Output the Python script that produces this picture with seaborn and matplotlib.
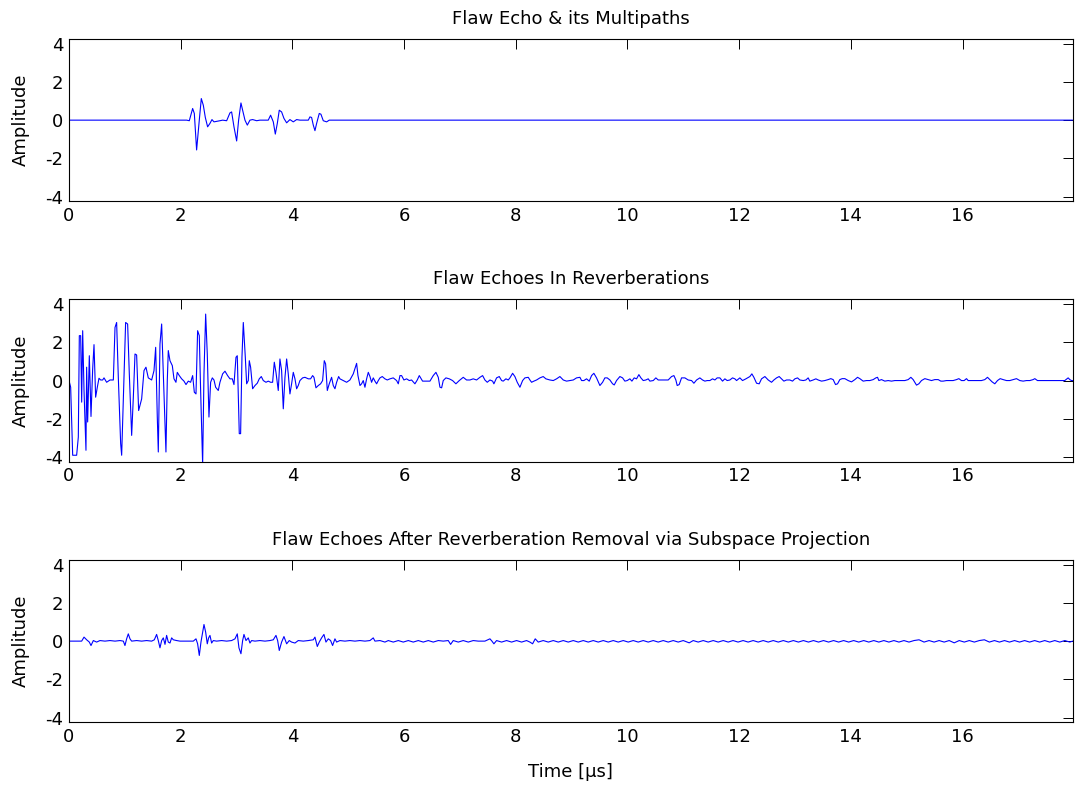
import pandas as pd
import matplotlib
matplotlib.use("Agg")
import matplotlib.pyplot as plt
import seaborn as sns

# Panel titles and axis ticks
titles = ["Flaw Echo & its Multipaths",
          "Flaw Echoes In Reverberations",
          "Flaw Echoes After Reverberation Removal via Subspace Projection"]
x_ticks = [0, 2, 4, 6, 8, 10, 12, 14, 16]
y_ticks = [-4, -2, 0, 2, 4]
t_max = 17.97

# (time [us], amplitude)
echo = [(0.0, 0), (2.107, 0), (2.154, -0.03), (2.214, 0.61), (2.244, 0.35), (2.285, -1.56),
        (2.333, 0), (2.369, 1.13), (2.405, 0.78), (2.441, 0.14), (2.482, -0.35), (2.524, -0.17),
        (2.560, 0.03), (2.596, -0.09), (2.703, -0.03), (2.751, 0), (2.823, -0.03), (2.882, 0.38),
        (2.912, 0.43), (2.954, -0.35), (3.002, -1.09), (3.037, 0), (3.079, 0.90), (3.109, 0.52),
        (3.151, 0), (3.193, -0.26), (3.240, 0), (3.288, 0.03), (3.360, -0.03), (3.419, 0),
        (3.568, 0), (3.610, 0.26), (3.658, -0.09), (3.694, -0.73), (3.730, -0.17), (3.765, 0.52),
        (3.807, 0.43), (3.849, 0.09), (3.897, -0.14), (3.956, 0.03), (4.016, -0.09), (4.076, 0.03),
        (4.135, 0), (4.285, 0), (4.314, 0.17), (4.344, 0.14), (4.374, -0.26), (4.404, -0.55),
        (4.434, -0.17), (4.481, 0.35), (4.511, 0.31), (4.553, -0.03), (4.613, -0.09), (4.660, 0),
        (17.97, 0)]

reverb = [(0.0, 0), (0.030, -0.35), (0.066, -3.91), (0.137, -3.91), (0.167, -2.96), (0.185, 2.35),
          (0.209, 2.35), (0.227, -1.13), (0.245, 2.61), (0.269, -0.52), (0.304, -3.65), (0.316, 0.70),
          (0.334, -2.17), (0.364, 1.30), (0.394, -1.88), (0.424, 0.61), (0.448, 1.88), (0.477, -0.87),
          (0.507, -0.35), (0.537, 0.12), (0.567, 0.03), (0.603, 0.03), (0.627, 0.14), (0.674, -0.09),
          (0.734, 0.03), (0.794, 0.03), (0.824, 2.78), (0.853, 3.04), (0.883, 0.17), (0.925, -3.30),
          (0.943, -3.91), (0.973, -1.04), (1.014, 3.04), (1.050, 2.96), (1.080, 0.35), (1.122, -2.87),
          (1.152, -0.87), (1.182, 1.39), (1.211, 1.34), (1.247, -1.57), (1.301, -0.96), (1.343, 0.52),
          (1.378, 0.70), (1.420, 0.14), (1.480, 0.03), (1.522, 0.52), (1.552, 1.74), (1.581, -1.91),
          (1.599, -3.74), (1.629, 1.91), (1.659, 2.96), (1.689, 0.35), (1.736, -3.74), (1.760, 0),
          (1.778, 1.57), (1.808, 1.04), (1.850, 0.78), (1.880, 0.09), (1.915, -0.09), (1.939, 0.43),
          (1.975, 0.26), (2.017, 0.09), (2.059, -0.03), (2.095, -0.21), (2.136, -0.03), (2.178, -0.09),
          (2.214, 0.26), (2.244, -0.61), (2.274, -0.70), (2.303, 2.61), (2.333, 2.35), (2.357, -0.52),
          (2.393, -4.40), (2.417, 0.35), (2.447, 3.48), (2.476, 1.39), (2.506, -1.91), (2.536, -0.09),
          (2.566, 0.14), (2.596, 0.03), (2.626, -0.35), (2.673, -0.52), (2.703, -0.09), (2.751, 0.35),
          (2.793, 0.49), (2.840, 0.26), (2.882, 0.09), (2.924, 0.09), (2.954, -0.21), (2.990, 1.22),
          (3.013, 1.30), (3.049, -2.78), (3.073, -2.78), (3.097, 1.22), (3.121, 3.04), (3.157, 1.22),
          (3.181, -0.17), (3.210, 0), (3.228, 1.04), (3.252, 0.70), (3.288, -0.43), (3.330, -0.26),
          (3.371, -0.14), (3.407, 0.09), (3.443, 0.21), (3.479, 0), (3.527, -0.09), (3.568, -0.03),
          (3.610, -0.09), (3.646, -0.09), (3.676, 0.96), (3.706, 0.43), (3.747, -0.52), (3.777, 1.13),
          (3.807, 0.52), (3.837, -1.48), (3.867, 0.17), (3.897, 1.13), (3.926, 0.35), (3.956, -0.70),
          (3.986, -0.17), (4.016, 0.43), (4.046, 0.09), (4.076, -0.43), (4.105, -0.26), (4.135, 0),
          (4.183, 0.14), (4.225, 0.17), (4.285, 0.09), (4.326, 0.09), (4.362, 0.26), (4.386, 0.17),
          (4.422, -0.38), (4.464, -0.26), (4.505, -0.17), (4.541, 0), (4.571, 1.04), (4.595, 0.87),
          (4.625, -0.52), (4.660, -0.17), (4.702, 0.17), (4.732, -0.26), (4.762, -0.43), (4.792, -0.09),
          (4.828, 0.21), (4.851, 0.09), (4.911, 0), (4.971, -0.09), (5.030, 0.03), (5.090, 0.35),
          (5.150, 0.90), (5.174, 0.26), (5.210, -0.26), (5.239, -0.17), (5.269, 0), (5.299, -0.35),
          (5.329, 0.09), (5.359, 0.43), (5.389, 0.21), (5.418, -0.09), (5.448, 0.14), (5.478, -0.03),
          (5.508, -0.17), (5.538, 0), (5.568, 0.14), (5.609, 0.21), (5.657, 0.09), (5.699, 0.03),
          (5.747, 0.09), (5.806, 0.14), (5.866, 0), (5.896, -0.17), (5.926, 0.26), (5.955, 0.26),
          (5.997, 0.03), (6.045, 0.09), (6.093, 0), (6.134, 0.03), (6.194, -0.17), (6.236, 0.03),
          (6.272, 0.26), (6.296, 0.14), (6.331, -0.03), (6.403, -0.03), (6.463, -0.03), (6.522, 0.26),
          (6.570, 0.43), (6.612, 0.17), (6.642, -0.35), (6.672, -0.38), (6.701, 0), (6.749, 0.14),
          (6.809, 0.09), (6.868, 0), (6.928, -0.17), (6.988, 0), (7.059, 0.17), (7.119, 0.03),
          (7.179, 0.03), (7.238, 0.09), (7.298, 0.03), (7.358, 0.17), (7.406, 0.26), (7.447, 0.03),
          (7.489, -0.09), (7.537, 0.03), (7.585, -0.03), (7.608, -0.17), (7.656, 0.14), (7.704, 0.21),
          (7.746, 0), (7.775, -0.03), (7.823, 0.09), (7.865, 0.03), (7.895, 0.14), (7.943, 0.38),
          (7.984, 0.21), (8.026, -0.09), (8.074, -0.35), (8.122, 0), (8.163, 0.14), (8.223, 0.17),
          (8.253, 0.03), (8.283, -0.09), (8.324, -0.03), (8.372, 0.03), (8.432, 0.14), (8.491, 0.21),
          (8.539, 0.09), (8.611, 0.03), (8.671, 0), (8.730, 0.09), (8.790, 0.21), (8.850, 0.03),
          (8.909, -0.03), (8.969, 0), (9.029, 0.03), (9.088, 0.14), (9.148, 0.17), (9.178, 0),
          (9.219, 0), (9.267, 0.09), (9.315, -0.03), (9.357, 0.26), (9.398, 0.38), (9.446, 0.14),
          (9.506, -0.26), (9.554, -0.09), (9.595, 0.14), (9.637, 0.14), (9.685, 0.03), (9.733, -0.17),
          (9.763, -0.23), (9.804, 0), (9.864, 0.21), (9.912, 0.14), (9.953, -0.03), (9.995, 0),
          (10.043, 0.09), (10.079, -0.03), (10.120, 0.14), (10.162, 0.09), (10.204, 0.31), (10.240, 0.14),
          (10.282, 0), (10.329, 0.03), (10.371, 0.09), (10.401, -0.03), (10.461, 0), (10.508, 0.14),
          (10.550, 0.03), (10.610, 0.03), (10.670, 0.03), (10.729, 0.03), (10.789, 0.21), (10.831, 0.26),
          (10.866, 0.03), (10.890, -0.26), (10.926, -0.21), (10.968, 0.14), (11.028, 0.14), (11.087, 0.03),
          (11.147, 0), (11.189, -0.14), (11.237, 0.03), (11.296, 0.14), (11.344, 0.03), (11.386, -0.03),
          (11.427, 0), (11.475, 0), (11.523, 0.09), (11.565, 0.03), (11.606, 0.14), (11.654, 0.14),
          (11.702, -0.03), (11.744, 0.09), (11.785, 0), (11.833, 0.03), (11.881, 0.14), (11.923, 0.09),
          (11.953, 0), (12.012, 0.14), (12.060, 0), (12.120, 0.09), (12.191, 0.21), (12.227, 0.35),
          (12.263, 0.17), (12.311, -0.14), (12.358, -0.17), (12.400, 0.09), (12.460, 0.21), (12.520, 0.03),
          (12.579, -0.09), (12.621, 0.03), (12.669, 0.14), (12.716, 0.21), (12.758, 0.09), (12.800, -0.03),
          (12.848, 0.03), (12.907, 0.03), (12.955, -0.03), (12.997, 0.09), (13.045, 0.14), (13.086, 0.03),
          (13.146, 0), (13.194, 0.03), (13.235, 0.14), (13.265, -0.03), (13.325, 0.03), (13.373, 0.09),
          (13.415, 0.03), (13.474, -0.03), (13.534, 0), (13.593, 0.05), (13.641, 0.10), (13.683, 0.05),
          (13.725, -0.21), (13.761, -0.17), (13.802, 0.05), (13.844, 0.10), (13.892, 0.10), (13.952, 0),
          (14.011, -0.07), (14.071, 0.05), (14.119, 0.17), (14.160, 0.10), (14.220, -0.03), (14.280, 0),
          (14.339, 0), (14.399, 0.05), (14.447, 0.14), (14.477, 0.17), (14.501, 0), (14.548, 0.05),
          (14.608, -0.03), (14.668, 0), (14.727, -0.03), (14.787, 0), (14.877, 0), (14.966, 0),
          (15.026, 0.05), (15.074, 0.17), (15.115, 0.05), (15.175, -0.24), (15.217, -0.17), (15.264, 0),
          (15.324, 0.10), (15.384, 0.05), (15.443, 0), (15.503, 0.05), (15.563, 0.05), (15.610, -0.03),
          (15.652, -0.03), (15.712, 0), (15.772, 0), (15.831, 0), (15.891, 0.05), (15.933, 0.10),
          (15.980, 0), (16.028, 0), (16.070, 0.10), (16.100, 0), (16.159, 0), (16.219, 0),
          (16.279, 0), (16.338, 0), (16.398, 0.05), (16.446, 0.17), (16.488, 0.05), (16.529, -0.07),
          (16.577, -0.17), (16.625, 0), (16.673, 0.10), (16.726, 0.05), (16.786, 0), (16.846, 0),
          (16.905, 0.05), (16.965, 0.10), (17.025, 0), (17.084, -0.03), (17.144, 0), (17.204, 0),
          (17.263, 0.05), (17.293, 0.10), (17.341, 0), (17.413, 0), (17.472, 0), (17.532, 0),
          (17.592, 0), (17.651, 0), (17.711, 0), (17.771, 0), (17.830, 0), (17.890, 0.14),
          (17.920, 0.05), (17.950, 0), (17.97, 0)]

cleaned = [(0.0, 0), (0.227, 0), (0.269, 0.21), (0.316, 0.07), (0.364, -0.05), (0.394, -0.23),
           (0.436, 0.03), (0.495, -0.05), (0.555, 0.03), (0.644, 0), (0.734, 0.03), (0.824, 0),
           (0.913, 0.03), (0.973, 0), (1.002, -0.23), (1.032, 0.12), (1.062, 0.38), (1.092, 0.12),
           (1.122, 0), (1.211, 0.03), (1.301, 0), (1.390, 0.03), (1.480, 0), (1.528, 0.07),
           (1.569, 0.35), (1.599, 0.03), (1.629, -0.35), (1.659, 0.03), (1.689, 0.17), (1.719, -0.17),
           (1.748, 0.30), (1.778, -0.05), (1.808, -0.10), (1.838, 0.17), (1.868, 0.07), (1.927, 0.03),
           (1.987, 0), (2.077, 0), (2.166, 0), (2.226, 0), (2.274, 0.12), (2.303, -0.14),
           (2.333, -0.75), (2.363, -0.05), (2.393, 0.47), (2.417, 0.87), (2.447, 0.47), (2.476, -0.14),
           (2.500, 0.17), (2.524, 0.30), (2.554, -0.10), (2.584, 0.03), (2.643, 0), (2.733, 0.03),
           (2.823, 0), (2.912, 0.03), (2.972, 0.12), (3.013, 0.38), (3.043, -0.35), (3.079, -0.66),
           (3.109, 0.03), (3.133, 0.35), (3.169, 0.03), (3.210, 0.17), (3.240, -0.10), (3.270, 0.03),
           (3.330, 0), (3.419, 0.03), (3.509, 0), (3.598, 0.03), (3.658, 0.07), (3.706, 0.30),
           (3.736, 0.03), (3.765, -0.49), (3.807, -0.05), (3.849, 0.24), (3.897, -0.14), (3.944, 0.03),
           (3.986, -0.05), (4.046, -0.10), (4.105, 0.03), (4.195, 0), (4.285, 0.03), (4.374, 0.07),
           (4.404, 0.21), (4.446, -0.28), (4.481, -0.05), (4.523, 0.17), (4.565, 0.35), (4.601, -0.05),
           (4.643, 0.12), (4.684, 0.03), (4.720, -0.23), (4.762, 0.12), (4.792, -0.05), (4.851, 0.03),
           (4.941, 0), (5.030, 0.03), (5.120, 0), (5.209, 0.03), (5.299, 0), (5.389, 0.03),
           (5.448, 0.17), (5.478, 0), (5.568, 0.03), (5.657, -0.05), (5.717, 0.03), (5.806, -0.05),
           (5.896, 0.03), (5.985, -0.05), (6.075, 0.03), (6.164, -0.05), (6.254, 0.03), (6.343, -0.05),
           (6.433, 0.03), (6.522, -0.05), (6.612, 0.03), (6.701, 0), (6.791, 0.03), (6.833, -0.17),
           (6.880, 0.03), (6.970, -0.05), (7.059, 0.03), (7.149, -0.05), (7.238, 0.03), (7.328, 0),
           (7.447, 0), (7.537, 0.12), (7.573, 0), (7.608, -0.14), (7.656, 0.03), (7.746, -0.05),
           (7.835, 0.03), (7.925, -0.05), (8.014, 0.03), (8.104, -0.05), (8.193, 0.03), (8.253, -0.05),
           (8.301, -0.14), (8.348, 0.12), (8.402, -0.05), (8.491, 0.03), (8.581, -0.05), (8.671, 0.03),
           (8.760, -0.05), (8.850, 0.03), (8.939, -0.05), (9.029, 0.03), (9.118, -0.05), (9.208, 0.03),
           (9.297, -0.05), (9.387, 0.03), (9.476, -0.05), (9.566, 0.03), (9.655, -0.05), (9.745, 0.03),
           (9.834, -0.05), (9.924, 0.03), (10.013, -0.05), (10.103, 0.03), (10.192, -0.05), (10.282, 0.03),
           (10.371, -0.05), (10.461, 0.03), (10.550, -0.05), (10.640, 0.03), (10.729, -0.05), (10.819, 0.03),
           (10.908, -0.05), (10.998, 0.03), (11.105, -0.09), (11.177, 0.03), (11.266, -0.05), (11.356, 0.03),
           (11.445, -0.05), (11.535, 0.03), (11.624, -0.05), (11.714, 0.03), (11.803, -0.05), (11.89, 0.03),
           (11.98, -0.05), (12.07, 0.03), (12.16, -0.05), (12.25, 0.03), (12.34, -0.05), (12.43, 0.03),
           (12.52, -0.05), (12.61, 0.03), (12.70, -0.05), (12.79, 0.03), (12.88, -0.05), (12.97, 0.03),
           (13.06, -0.05), (13.15, 0.03), (13.24, -0.05), (13.33, 0.03), (13.42, -0.05), (13.51, 0.03),
           (13.60, -0.05), (13.69, 0.03), (13.78, -0.05), (13.87, 0.03), (13.96, -0.05), (14.05, 0.03),
           (14.14, -0.05), (14.23, 0.03), (14.32, -0.05), (14.41, 0.03), (14.50, -0.05), (14.59, 0.03),
           (14.68, -0.05), (14.77, 0.03), (14.86, -0.05), (14.95, 0.03), (15.04, -0.05), (15.13, 0.03),
           (15.22, 0.07), (15.31, -0.05), (15.40, 0.03), (15.49, -0.05), (15.58, 0.03), (15.67, -0.05),
           (15.76, 0.03), (15.85, -0.09), (15.94, 0.03), (16.03, -0.05), (16.12, 0.03), (16.21, -0.05),
           (16.30, 0.03), (16.39, 0.07), (16.48, -0.05), (16.57, 0.03), (16.66, -0.05), (16.75, 0.03),
           (16.84, -0.05), (16.93, 0.03), (17.02, -0.05), (17.11, 0.03), (17.20, -0.05), (17.29, 0.03),
           (17.38, -0.05), (17.47, 0.03), (17.56, -0.05), (17.65, 0.03), (17.74, -0.05), (17.83, 0.03),
           (17.92, -0.05), (17.97, 0.0)]

sns.set_style("white")
plt.rcParams['font.family'] = ['DejaVu Sans']
plt.rcParams['font.size'] = 13
plt.rcParams['text.color'] = 'black'
plt.rcParams['axes.labelcolor'] = 'black'
plt.rcParams['axes.unicode_minus'] = False
plt.rcParams['xtick.direction'] = 'in'
plt.rcParams['ytick.direction'] = 'in'

fig = plt.figure(figsize=(10.78, 7.92), dpi=100)
bottoms = [0.7458, 0.4170, 0.0880]

for sig, title, y0 in zip([echo, reverb, cleaned], titles, bottoms):
    ax = fig.add_axes([0.064, y0, 0.931, 0.205])
    df = pd.DataFrame(sig, columns=['time', 'amp'])
    sns.lineplot(data=df, x='time', y='amp', ax=ax, color='blue', linewidth=0.8,
                 estimator=None, sort=False)
    ax.set_xlim(0, t_max)
    ax.set_ylim(-4.25, 4.25)
    ax.set_xticks(x_ticks)
    ax.set_yticks(y_ticks)
    ax.tick_params(top=True, right=True, length=7, width=0.7, labelsize=13, pad=4,
                   colors='black')
    for s in ax.spines.values():
        s.set_color('black')
        s.set_linewidth(0.8)
    ax.set_title(title, fontsize=13, pad=11, color='black')
    ax.set_ylabel('Amplitude', fontsize=13, labelpad=11)
    ax.set_xlabel('')

ax.set_xlabel('Time [μs]', fontsize=13, labelpad=12)

plt.savefig('out.png', dpi=100)
plt.close()
